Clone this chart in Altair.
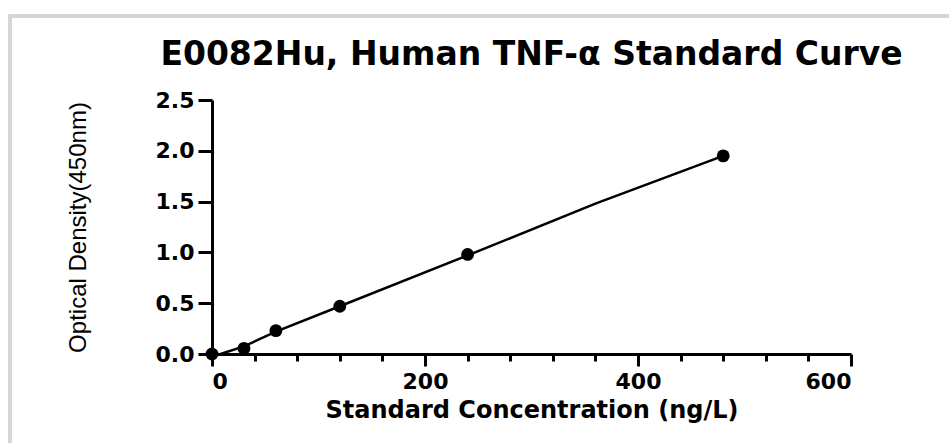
import altair as alt
import pandas as pd

# Standard points
conc = [0, 30, 60, 120, 240, 480]
od = [0.0, 0.055, 0.23, 0.47, 0.98, 1.95]

# Fitted curve
curve_x = [8, 30, 60, 120, 240, 360, 480]
curve_y = [0.0, 0.075, 0.22, 0.47, 0.97, 1.48, 1.95]

x_ticks = list(range(0, 601, 20))
y_ticks = [0.0, 0.5, 1.0, 1.5, 2.0, 2.5]

pts = pd.DataFrame({"conc": conc, "od": od})
crv = pd.DataFrame({"conc": curve_x, "od": curve_y})

LABEL_FONT = "DejaVu Sans"

xscale = alt.Scale(domain=[0, 600], nice=False, zero=False)
yscale = alt.Scale(domain=[0, 2.5], nice=False, zero=False)

xaxis = alt.Axis(
    orient="bottom", values=x_ticks, title="Standard Concentration (ng/L)",
    labelExpr="datum.value % 200 === 0 ? datum.label : ''", labelOverlap=False,
    labelFont=LABEL_FONT, labelFontWeight="bold", labelFontSize=22, labelColor="black",
    labelPadding=5,
    tickSize={"condition": {"test": "datum.value % 200 === 0", "value": 12}, "value": 7},
    tickWidth=3, tickColor="black",
    domainWidth=3, domainColor="black", grid=False,
    titleFont=LABEL_FONT, titleFontWeight="bold", titleFontSize=24, titleColor="black",
    titleBaseline="alphabetic", titleY=63,
)
yaxis = alt.Axis(
    values=y_ticks, format=".1f", title="Optical Density(450nm)",
    labelFont=LABEL_FONT, labelFontWeight="bold", labelFontSize=22, labelColor="black",
    labelPadding=4, tickSize=14, tickWidth=3, tickColor="black",
    domainWidth=3, domainColor="black", grid=False,
    titleFont="Liberation Sans", titleFontWeight="normal", titleFontSize=24, titleColor="black",
    titleX=-122, titleY=127,
)

line = alt.Chart(crv).mark_line(color="black", strokeWidth=2.5).encode(
    x=alt.X("conc:Q", scale=xscale, axis=xaxis),
    y=alt.Y("od:Q", scale=yscale, axis=yaxis),
)

points = alt.Chart(pts).mark_point(filled=True, color="black", size=165, opacity=1).encode(
    x=alt.X("conc:Q", scale=xscale),
    y=alt.Y("od:Q", scale=yscale),
)

frame = alt.Chart(pts).mark_rect(fill=None, stroke="#d6d6d6", strokeWidth=3).encode(
    x=alt.value(-202), x2=alt.value(800), y=alt.value(-84), y2=alt.value(420)
)

chart = alt.layer(frame, line, points).properties(
    width=639, height=254,
    padding={"left": 212, "top": 100, "right": 98, "bottom": 89},
    autosize=alt.AutoSizeParams(type="none"),
    background="white",
    title=alt.TitleParams(
        "E0082Hu, Human TNF-α Standard Curve",
        font=LABEL_FONT, fontWeight="bold", fontSize=33, color="black",
        anchor="middle", baseline="alphabetic", offset=0, dy=83,
    ),
).configure_view(stroke=None)

chart.save("out.html", embed_options={"renderer": "svg", "actions": False})
